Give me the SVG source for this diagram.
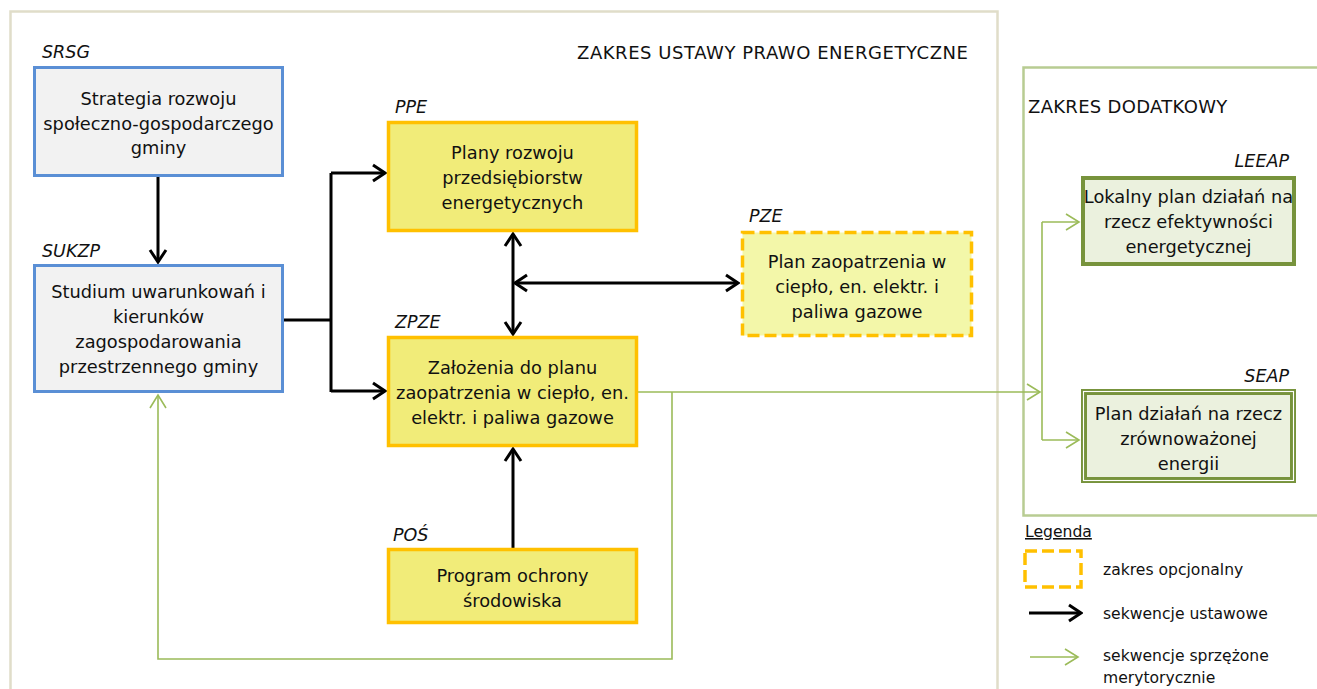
<svg xmlns="http://www.w3.org/2000/svg" width="1317" height="689" viewBox="0 0 1317 689">
<defs>
<style>
.t{font-family:"DejaVu Sans",Verdana,sans-serif;font-size:17.8px;fill:#111;text-anchor:middle}
.lb{font-family:"DejaVu Sans",Verdana,sans-serif;font-size:17.5px;font-style:italic;fill:#111}
.hd{font-family:"DejaVu Sans",Verdana,sans-serif;font-size:18px;fill:#111}
.lg{font-family:"DejaVu Sans",Verdana,sans-serif;font-size:15.6px;fill:#111}
.blue{fill:#f2f2f2;stroke:#5a8fd5;stroke-width:3}
.yel{fill:#f1ec79;stroke:#ffc000;stroke-width:3.5}
.opt{fill:#f3f7a9;stroke:#ffc000;stroke-width:3.5;stroke-dasharray:12 5}
.grn{fill:#ebf1de;stroke:#77933c;stroke-width:4}
.bk{fill:none;stroke:#000;stroke-width:3}
.gl{fill:none;stroke:#9bbb59;stroke-width:1.6}
</style>
<marker id="ab" viewBox="-14 -10 16 20" refX="0" refY="0" markerWidth="16" markerHeight="20" markerUnits="userSpaceOnUse" orient="auto-start-reverse">
<path d="M-12,-8 L0,0 L-12,8" fill="none" stroke="#000" stroke-width="3"/>
</marker>
<marker id="ag" viewBox="-14 -10 16 20" refX="0" refY="0" markerWidth="16" markerHeight="20" markerUnits="userSpaceOnUse" orient="auto-start-reverse">
<path d="M-13,-8 L0,0 L-13,8" fill="none" stroke="#9bbb59" stroke-width="1.6"/>
</marker>
</defs>
<rect width="1317" height="689" fill="#fff"/>
<g id="frames">
<rect x="10.5" y="11.5" width="987" height="720" fill="none" stroke="#e0ddc9" stroke-width="2.5"/>
<rect x="1023.5" y="67.5" width="320" height="448" fill="none" stroke="#b8cc92" stroke-width="2.5"/>
<text class="hd" x="577" y="59" letter-spacing="0.55">ZAKRES USTAWY PRAWO ENERGETYCZNE</text>
<text class="hd" x="1028" y="113" letter-spacing="0.3">ZAKRES DODATKOWY</text>
</g>
<g id="connectors">
<path class="bk" d="M158,177 V262" marker-end="url(#ab)"/>
<path class="bk" d="M284,320 H331 M331,173 V392"/>
<path class="bk" d="M331,173 H385" marker-end="url(#ab)"/>
<path class="bk" d="M331,391 H385" marker-end="url(#ab)"/>
<path class="bk" d="M513,234 V334" marker-start="url(#ab)" marker-end="url(#ab)"/>
<path class="bk" d="M515,283 H738" marker-start="url(#ab)" marker-end="url(#ab)"/>
<path class="bk" d="M513,548 V449" marker-end="url(#ab)"/>
<path class="gl" d="M638,392 H1040" marker-end="url(#ag)"/>
<path class="gl" d="M672,392 V659 H158 V395" marker-end="url(#ag)"/>
<path class="gl" d="M1042,222 V440"/>
<path class="gl" d="M1042,222 H1079" marker-end="url(#ag)"/>
<path class="gl" d="M1042,440 H1079" marker-end="url(#ag)"/>
</g>
<g id="SRSG">
<rect class="blue" x="34.5" y="67.5" width="248" height="108"/>
<text class="lb" x="42" y="58">SRSG</text>
<text class="t" x="158.5" y="105">Strategia rozwoju</text>
<text class="t" x="158.5" y="130">społeczno-gospodarczego</text>
<text class="t" x="158.5" y="154">gminy</text>
</g>
<g id="SUKZP">
<rect class="blue" x="34.5" y="265.5" width="248" height="126"/>
<text class="lb" x="42" y="257">SUKZP</text>
<text class="t" x="158.5" y="298">Studium uwarunkowań i</text>
<text class="t" x="158.5" y="323">kierunków</text>
<text class="t" x="158.5" y="348">zagospodarowania</text>
<text class="t" x="158.5" y="373">przestrzennego gminy</text>
</g>
<g id="PPE">
<rect class="yel" x="388.5" y="122.5" width="248" height="108"/>
<text class="lb" x="395" y="113">PPE</text>
<text class="t" x="512.5" y="159">Plany rozwoju</text>
<text class="t" x="512.5" y="184">przedsiębiorstw</text>
<text class="t" x="512.5" y="209">energetycznych</text>
</g>
<g id="ZPZE">
<rect class="yel" x="388.5" y="337.5" width="248" height="108"/>
<text class="lb" x="395" y="328">ZPZE</text>
<text class="t" x="512.5" y="374">Założenia do planu</text>
<text class="t" x="512.5" y="399">zaopatrzenia w ciepło, en.</text>
<text class="t" x="512.5" y="424">elektr. i paliwa gazowe</text>
</g>
<g id="PZE">
<rect class="opt" x="742.5" y="232.5" width="229" height="103"/>
<text class="lb" x="749" y="222">PZE</text>
<text class="t" x="857" y="268">Plan zaopatrzenia w</text>
<text class="t" x="857" y="293">ciepło, en. elektr. i</text>
<text class="t" x="857" y="318">paliwa gazowe</text>
</g>
<g id="POS">
<rect class="yel" x="388.5" y="549.5" width="248" height="73"/>
<text class="lb" x="393" y="541">POŚ</text>
<text class="t" x="512.5" y="582">Program ochrony</text>
<text class="t" x="512.5" y="607">środowiska</text>
</g>
<g id="LEEAP">
<rect class="grn" x="1083" y="178" width="211" height="86"/>
<text class="lb" x="1289" y="167" text-anchor="end">LEEAP</text>
<text class="t" x="1188.5" y="203">Lokalny plan działań na</text>
<text class="t" x="1188.5" y="228">rzecz efektywności</text>
<text class="t" x="1188.5" y="253">energetycznej</text>
</g>
<g id="SEAP">
<rect x="1084" y="392" width="209" height="88" fill="#ebf1de" stroke="#77933c" stroke-width="6"/>
<rect x="1083.5" y="391.5" width="210" height="89" fill="none" stroke="#fff" stroke-width="1.1"/>
<text class="lb" x="1289" y="382" text-anchor="end">SEAP</text>
<text class="t" x="1188.5" y="420">Plan działań na rzecz</text>
<text class="t" x="1188.5" y="445">zrównoważonej</text>
<text class="t" x="1188.5" y="470">energii</text>
</g>
<g id="legend">
<text class="lg" x="1025" y="537" text-decoration="underline">Legenda</text>
<rect x="1025" y="551" width="56" height="36" fill="none" stroke="#ffc000" stroke-width="3.5" stroke-dasharray="12 5"/>
<text class="lg" x="1103" y="575">zakres opcjonalny</text>
<path class="bk" d="M1029,613 H1081" marker-end="url(#ab)"/>
<text class="lg" x="1103" y="619">sekwencje ustawowe</text>
<path class="gl" d="M1030,657 H1078" marker-end="url(#ag)"/>
<text class="lg" x="1103" y="661">sekwencje sprzężone</text>
<text class="lg" x="1103" y="683">merytorycznie</text>
</g>
</svg>
